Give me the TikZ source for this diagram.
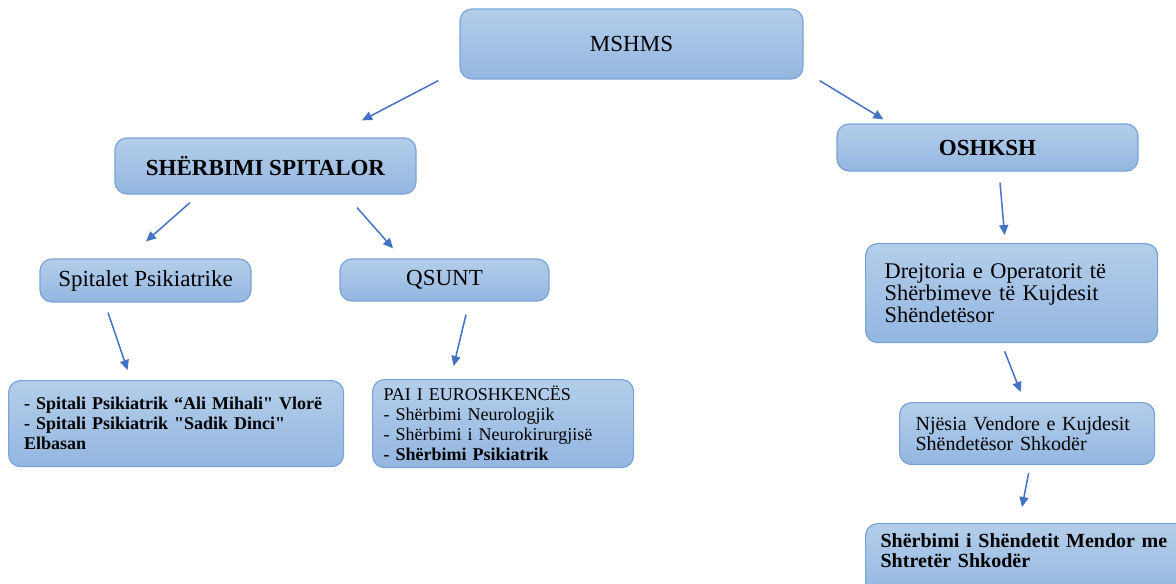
\documentclass[tikz,border=0pt]{standalone}
\usepackage{fontspec}
\setmainfont{Liberation Serif}[Ligatures=TeXOff]
\usetikzlibrary{arrows.meta, positioning, shapes.geometric}
\definecolor{boxtop}{HTML}{B4CEEA}
\definecolor{boxbot}{HTML}{93B6E0}
\definecolor{boxline}{HTML}{7AA3D5}
\definecolor{arrowblue}{HTML}{4472C4}
\tikzset{
  unit/.style={rectangle, rounded corners=6pt, draw=boxline, line width=0.6pt, top color=boxtop, bottom color=boxbot, text=black, inner sep=0pt},
  big/.style={unit, font=\fontsize{11.5}{12}\selectfont, text centered},
  bigleft/.style={unit, font=\fontsize{11.2}{11}\selectfont, align=left, anchor=north west},
  small/.style={unit, font=\fontsize{9}{10}\selectfont, align=left, anchor=north west},
  medium/.style={unit, font=\fontsize{10}{10}\selectfont, align=left, anchor=north west},
  arrow/.style={arrowblue, line width=0.75pt, -{Triangle[length=5pt,width=4.5pt]}}
}

\begin{document}
\begin{tikzpicture}[x=0.5pt, y=-0.5pt]
    \useasboundingbox (0,0) rectangle (1176,583);

    % top level
    \node (mshms) [big, minimum width=171.5pt, minimum height=35pt] at (631.5,44) {MSHMS};
    \node (spit) [big, minimum width=150.5pt, minimum height=28pt, font=\fontsize{11.5}{12}\selectfont\bfseries] at (265.5,166) {SHËRBIMI SPITALOR};
    \node (oshksh) [big, minimum width=150.5pt, minimum height=23.5pt, font=\fontsize{11.5}{12}\selectfont\bfseries] at (987.5,147.5) {OSHKSH};

    % second level
    \node (psik) [big, minimum width=105.5pt, minimum height=21.5pt] at (145.5,280.5) {Spitalet Psikiatrike};
    \node (qsunt) [big, minimum width=104.5pt, minimum height=21pt] at (444.5,280) {QSUNT};
    \node (drejt) [bigleft, minimum width=146pt, minimum height=49.5pt, text width=127pt, inner xsep=9.5pt] at (865,243)
      {Drejtoria e Operatorit të\\Shërbimeve të Kujdesit\\Shëndetësor};

    % third level
    \node (spitali) [small, font=\fontsize{9}{10}\selectfont\bfseries, minimum width=167.5pt, minimum height=43pt, text width=152pt, inner xsep=7.5pt] at (8,380)
      {- Spitali Psikiatrik “Ali Mihali" Vlorë\\- Spitali Psikiatrik "Sadik Dinci"\\Elbasan};
    \node (pai) [small, minimum width=130.5pt, minimum height=44pt, text width=119.5pt, inner xsep=5.5pt] at (372,379)
      {PAI I EUROSHKENCËS\\- Shërbimi Neurologjik\\- Shërbimi i Neurokirurgjisë\\\textbf{- Shërbimi Psikiatrik}};
    \node (njesia) [medium, minimum width=127.5pt, minimum height=31pt, text width=111.5pt, inner xsep=8pt] at (899,402)
      {Njësia Vendore e Kujdesit\\Shëndetësor Shkodër};
    \node (shendet) [medium, font=\fontsize{10}{10}\selectfont\bfseries, minimum width=165pt, text width=157pt, inner xsep=7.5pt, inner ysep=5pt, text depth=20pt] at (865,523)
      {Shërbimi i Shëndetit Mendor me\\Shtretër Shkodër};

    % arrows
    \draw[arrow] ([shift={(-21,1)}]mshms.south west) -- ([shift={(96.5,-17)}]spit.north);
    \draw[arrow] ([shift={(16,1)}]mshms.south east) -- ([shift={(47,-4)}]oshksh.north west);
    \draw[arrow] ([shift={(-75.5,8)}]spit.south) -- ([shift={(0.5,-17)}]psik.north);
    \draw[arrow] ([shift={(91.5,13)}]spit.south) -- ([shift={(-51.5,-10)}]qsunt.north);
    \draw[arrow] ([shift={(-37.5,10)}]psik.south) -- ([shift={(-48.5,-10)}]spitali.north);
    \draw[arrow] ([shift={(21.5,13)}]qsunt.south) -- ([shift={(-49.5,-13)}]pai.north);
    \draw[arrow] ([shift={(12.5,11)}]oshksh.south) -- ([shift={(-7,-8)}]drejt.north);
    \draw[arrow] ([shift={(-7,8)}]drejt.south) -- ([shift={(-6.5,-10)}]njesia.north);
    \draw[arrow] ([shift={(1.5,8)}]njesia.south) -- ([shift={(157,-16)}]shendet.north west);
\end{tikzpicture}
\end{document}
